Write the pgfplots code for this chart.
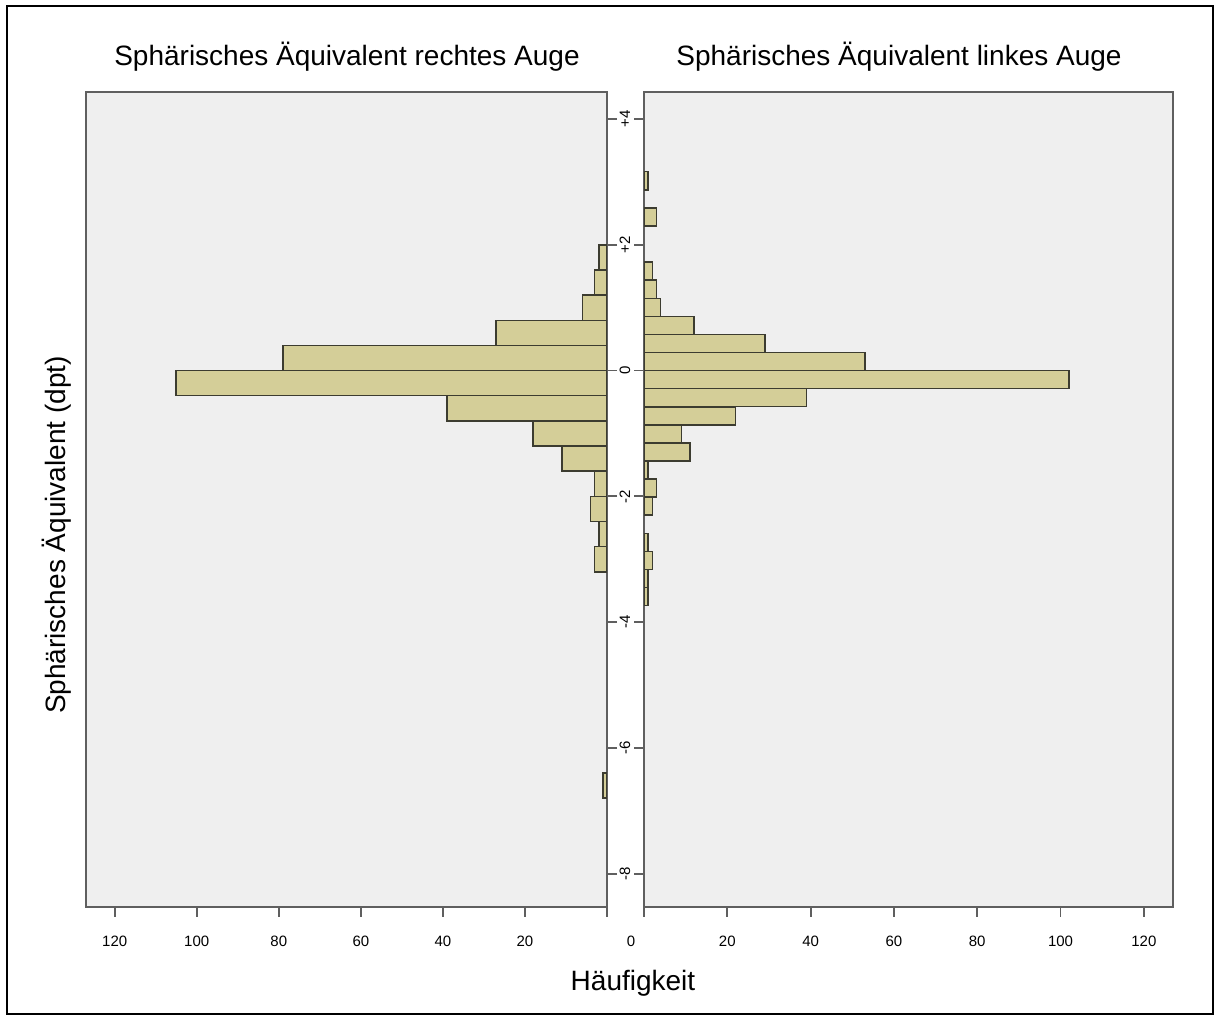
\documentclass[border=0pt]{standalone}
\usepackage{fontspec}
\setmainfont{Liberation Sans}
\usepackage{pgfplots}
\pgfplotsset{compat=1.18}
\definecolor{barfill}{RGB}{212,206,152}
\definecolor{bardraw}{RGB}{60,60,48}
\definecolor{bgc}{RGB}{239,239,239}
\definecolor{axc}{RGB}{95,95,95}
\pgfplotsset{
  common/.style={
    scale only axis,
    anchor=south west,
    height=407.5pt,
    ymin=-8.53, ymax=4.43,
    xmin=0, xmax=127,
    axis background/.style={fill=bgc},
    axis line style={draw=axc, line width=0.9pt},
    every tick/.style={draw=axc, line width=0.9pt},
    major tick length=5pt,
    tick align=outside,
    xtick={0,20,40,60,80,100,120},
    xticklabels={,20,40,60,80,100,120},
    xtick pos=lower,
    ytick={-8,-6,-4,-2,0,2,4},
    tick label style={font=\fontsize{7.5}{9}\selectfont},
    xticklabel style={yshift=-6pt},
    /pgf/number format/assume math mode=true,
  }
}
\begin{document}
\begin{tikzpicture}[x=1pt,y=1pt]
\useasboundingbox (0,0) rectangle (608.5,509.5);
\draw[line width=0.8pt] (3.5,2.5) rectangle (606.5,506.5);

% left panel: rechtes Auge
\begin{axis}[common,
  at={(43pt,56pt)}, width=260.5pt,
  x dir=reverse,
  ytick pos=right,
  yticklabel pos=right,
  yticklabels={-8,-6,-4,-2,0,+2,+4},
  yticklabel style={rotate=90, anchor=center, yshift=-4pt},
]
\addplot[xbar, bar width=0.4, bar shift=0pt, fill=barfill, draw=bardraw, line width=0.75pt]
coordinates {
(2,1.8) (3,1.4) (6,1.0) (27,0.6) (79,0.2) (105,-0.2) (39,-0.6) (18,-1.0)
(11,-1.4) (3,-1.8) (4,-2.2) (2,-2.6) (3,-3.0) (1,-6.6)
};
\end{axis}

% right panel: linkes Auge
\begin{axis}[common,
  at={(322pt,56pt)}, width=264.5pt,
  ytick pos=left,
  yticklabels={},
]
\addplot[xbar, bar width=0.2875, bar shift=0pt, fill=barfill, draw=bardraw, line width=0.75pt]
coordinates {
(1,3.019) (3,2.444) (2,1.581) (3,1.294) (4,1.006) (12,0.719) (29,0.431) (53,0.144)
(102,-0.144) (39,-0.431) (22,-0.719) (9,-1.006) (11,-1.294) (1,-1.581) (3,-1.869)
(2,-2.156) (1,-2.731) (2,-3.019) (1,-3.306) (1,-3.594)
};
\end{axis}

\node[font=\fontsize{7.5}{9}\selectfont] at (315.5,39) {0};
\node[font=\fontsize{14}{17}\selectfont] at (173.5,481) {Sphärisches Äquivalent rechtes Auge};
\node[font=\fontsize{14}{17}\selectfont] at (449.5,481) {Sphärisches Äquivalent linkes Auge};
\node[font=\fontsize{14}{17}\selectfont, rotate=90] at (28.5,242) {Sphärisches Äquivalent (dpt)};
\node[font=\fontsize{14}{17}\selectfont] at (316.5,18) {Häufigkeit};
\end{tikzpicture}
\end{document}
